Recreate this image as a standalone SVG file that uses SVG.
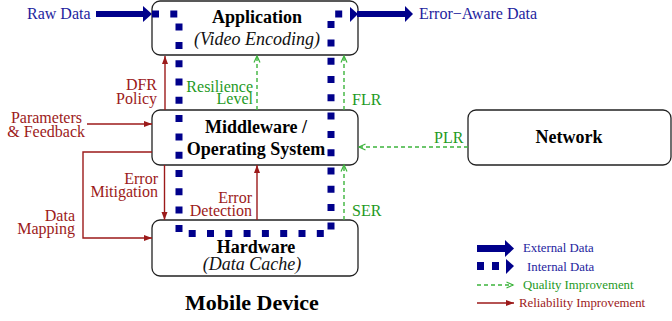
<svg xmlns="http://www.w3.org/2000/svg" width="672" height="321" viewBox="0 0 672 321">
<style>
.box{fill:#fff;stroke:#222;stroke-width:1.3}
.t{font-family:"Liberation Serif",serif}
.title{font-family:"Liberation Serif",serif;font-weight:bold;font-size:18px;fill:#000;text-anchor:middle}
.sub{font-family:"Liberation Serif",serif;font-style:italic;font-size:18px;fill:#111;text-anchor:middle}
.blue{fill:#1e1e9e;font-size:16px}
.red{fill:#9c1a1a;font-size:16px}
.green{fill:#1f9a1f;font-size:16px}
.rl{stroke:#9c1a1a;stroke-width:1.4;fill:none}
.gl{stroke:#3cb43c;stroke-width:1.4;fill:none;stroke-dasharray:4 3}
.dot{stroke:#00008b;stroke-width:7;fill:none;stroke-dasharray:7 11.3}
.ext{fill:#00008b}
.leg{font-size:12.8px}
</style>
<defs>
<marker id="rh" markerUnits="userSpaceOnUse" markerWidth="9" markerHeight="7" refX="8" refY="3.5" orient="auto">
<path d="M0,0.5 L8,3.5 L0,6.5 z" fill="#9c1a1a"/>
</marker>
<marker id="gh" markerUnits="userSpaceOnUse" markerWidth="9" markerHeight="8" refX="7" refY="4" orient="auto">
<path d="M0.5,1 L7,4 L0.5,7" fill="none" stroke="#3cb43c" stroke-width="1.2"/>
</marker>
</defs>

<g id="application">
<rect class="box" x="152" y="1" width="206" height="54" rx="8"/>
<text class="title" x="257" y="23">Application</text>
<text class="sub" x="257" y="45">(Video Encoding)</text>
</g>
<g id="middleware">
<rect class="box" x="152" y="110" width="206" height="55" rx="8"/>
<text class="title" x="256" y="133">Middleware /</text>
<text class="title" x="256" y="155">Operating System</text>
</g>
<g id="hardware">
<rect class="box" x="152" y="220" width="206" height="56" rx="8"/>
<text class="title" x="256" y="253">Hardware</text>
<text class="sub" x="252" y="270">(Data Cache)</text>
</g>
<g id="network">
<rect class="box" x="468" y="110" width="203" height="55" rx="8"/>
<text class="title" x="569" y="143">Network</text>
</g>
<g id="mobile-device">
<text class="title" x="252" y="310" style="font-size:22px">Mobile Device</text>
</g>

<g id="connectors">
<!-- external data -->
<rect class="ext" x="96" y="11" width="48" height="6"/>
<polygon class="ext" points="143,6 152,14 143,22"/>
<text class="t blue" x="27" y="19">Raw Data</text>
<rect class="ext" x="357" y="11" width="49" height="6"/>
<polygon class="ext" points="405,6 413,14 405,22"/>
<text class="t blue" x="419" y="19">Error−Aware Data</text>
<!-- internal data -->
<path class="dot" d="M152,14 H179 V233.5 H331 V14 H350"/>
<polygon class="ext" points="350,7 358,14 350,22"/>

<!-- red reliability -->
<line class="rl" x1="165" y1="110" x2="165" y2="56" marker-end="url(#rh)"/>
<text class="t red" x="157" y="90" text-anchor="end">DFR</text>
<text class="t red" x="157" y="104" text-anchor="end">Policy</text>
<line class="rl" x1="87" y1="124" x2="152" y2="124" marker-end="url(#rh)"/>
<text class="t red" x="82" y="123" text-anchor="end">Parameters</text>
<text class="t red" x="85" y="137" text-anchor="end">&amp; Feedback</text>
<path class="rl" d="M152,152 H83 V238 H152" marker-end="url(#rh)"/>
<text class="t red" x="75" y="221" text-anchor="end">Data</text>
<text class="t red" x="75" y="234" text-anchor="end">Mapping</text>
<line class="rl" x1="164.5" y1="165" x2="164.5" y2="220" marker-end="url(#rh)"/>
<text class="t red" x="158" y="184" text-anchor="end">Error</text>
<text class="t red" x="158" y="197" text-anchor="end">Mitigation</text>
<line class="rl" x1="257" y1="220" x2="257" y2="165" marker-end="url(#rh)"/>
<text class="t red" x="252" y="203" text-anchor="end">Error</text>
<text class="t red" x="252" y="216" text-anchor="end">Detection</text>

<!-- green quality -->
<line class="gl" x1="257" y1="110" x2="257" y2="56" marker-end="url(#gh)"/>
<text class="t green" x="253" y="92" text-anchor="end">Resilience</text>
<text class="t green" x="253" y="104" text-anchor="end">Level</text>
<line class="gl" x1="344" y1="110" x2="344" y2="56" marker-end="url(#gh)"/>
<text class="t green" x="352" y="105">FLR</text>
<line class="gl" x1="344" y1="220" x2="344" y2="165" marker-end="url(#gh)"/>
<text class="t green" x="352" y="216">SER</text>
<line class="gl" x1="468" y1="147" x2="359" y2="147" marker-end="url(#gh)"/>
<text class="t green" x="434" y="143">PLR</text>
</g>

<g id="legend">
<rect class="ext" x="477" y="245" width="29" height="7"/>
<polygon class="ext" points="505,240 514,248.5 505,257"/>
<text class="t blue leg" x="523" y="252">External Data</text>
<rect class="ext" x="477" y="262" width="7" height="8"/>
<rect class="ext" x="492" y="262" width="7" height="8"/>
<polygon class="ext" points="506,259 514,266 506,274"/>
<text class="t blue leg" x="527" y="271">Internal Data</text>
<line class="gl" x1="477" y1="285" x2="513" y2="285" marker-end="url(#gh)"/>
<text class="t green leg" x="523" y="289">Quality Improvement</text>
<line class="rl" x1="477" y1="303" x2="514" y2="303" marker-end="url(#rh)"/>
<text class="t red leg" x="519" y="307">Reliability Improvement</text>
</g>
</svg>
